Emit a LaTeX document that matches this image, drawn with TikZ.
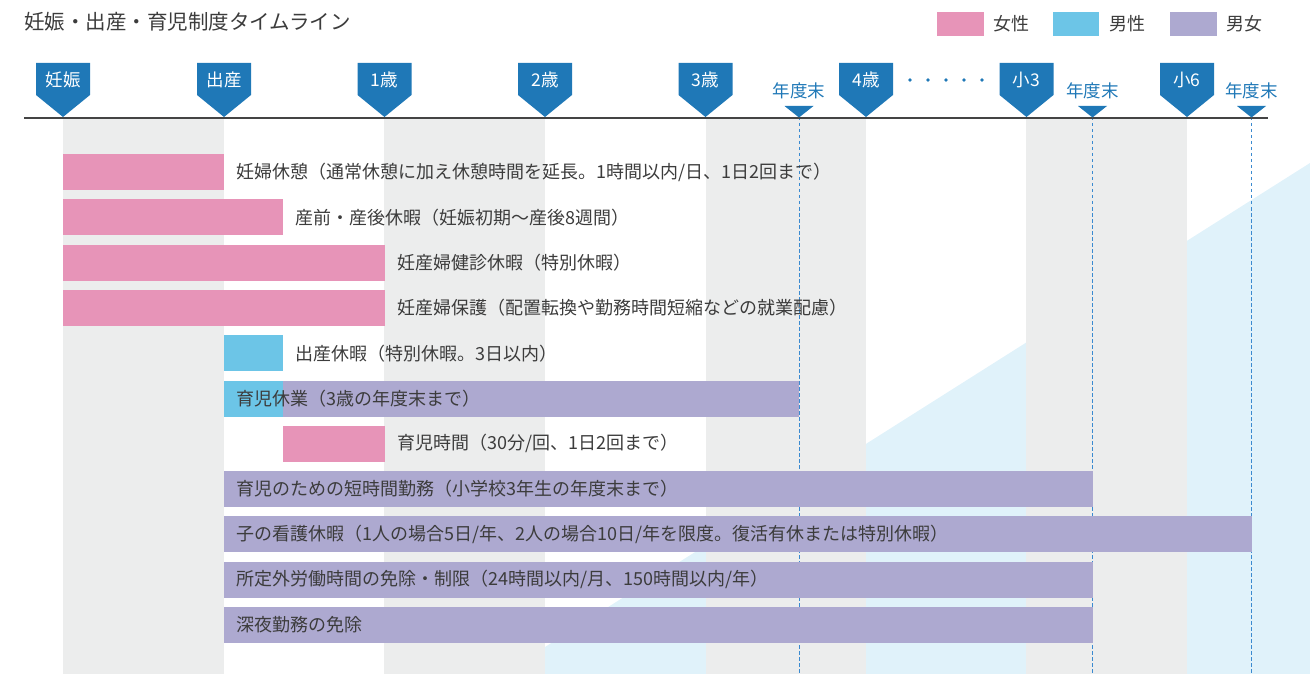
\documentclass[tikz,border=0pt]{standalone}
\usepackage{fontspec}
\setmainfont{Noto Sans CJK JP}
\definecolor{pinkc}{HTML}{E794B8}
\definecolor{cyanc}{HTML}{6CC5E7}
\definecolor{purpc}{HTML}{ADA9D0}
\definecolor{stripec}{HTML}{ECEDED}
\definecolor{lbluec}{HTML}{E0F2FA}
\definecolor{markc}{HTML}{1F78B7}
\definecolor{dashc}{HTML}{3A8AD0}
\definecolor{txtc}{HTML}{3C3C3C}
\definecolor{axisc}{HTML}{444444}
\tikzset{
  lbl/.style={anchor=west, inner sep=0pt, text=txtc, font=\fontsize{18}{20}\selectfont},
  mktext/.style={inner sep=0pt, text=white, font=\fontsize{17.5}{20}\selectfont},
  ndtext/.style={inner sep=0pt, text=markc, font=\fontsize{17.5}{20}\selectfont},
  legtext/.style={anchor=west, inner sep=0pt, text=txtc, font=\fontsize{18}{20}\selectfont},
  nendo/.style={dashc, dashed, dash pattern=on 3.5pt off 2.5pt, line width=1pt},
}
\begin{document}
\begin{tikzpicture}[x=1pt,y=-1pt]
\useasboundingbox (0,0) rectangle (1310,674);
% light blue background triangle
\fill[lbluec] (502.3,674) -- (1310,163) -- (1310,674) -- cycle;
% gray stripes
\foreach \a/\b in {62.5/223.5, 384/545, 706/866, 1026/1187}
  \fill[stripec] (\a,119) rectangle (\b,674);
% fiscal year end dashed lines
\foreach \x in {799, 1092.5, 1251.5}
  \draw[nendo] (\x,117) -- (\x,674);
% axis
\draw[axisc, line width=2pt] (24,118) -- (1268,118);
% markers
\foreach \x/\t/\n in {63/妊娠/mA, 224/出産/mB, 384.5/1歳/mC, 545/2歳/mD, 705.5/3歳/mE, 866/4歳/mF, 1026.5/小3/mG, 1187/小6/mH}{
  \fill[markc] (\x-27,63) -- (\x+27,63) -- (\x+27,95) -- (\x,117) -- (\x-27,95) -- cycle;
  \node[mktext] (\n) at (\x,79.5) {\t};
}
% fiscal year end markers
\foreach \x/\n in {799/nA, 1092.5/nB, 1251.5/nC}{
  \fill[markc] (\x-14.5,106) -- (\x+14.5,106) -- (\x,117.5) -- cycle;
  \node[ndtext] (\n) at (\x,91) {年度末};
}
% dots
\foreach \x in {910,928,946,964,982}
  \fill[markc] (\x,80) circle (1.8);
% bars
\fill[pinkc] (62.5,154) rectangle (224,190);
\node[lbl] (r1) at (236.5,172) {妊婦休憩（通常休憩に加え休憩時間を延長。1時間以内/日、1日2回まで）};
\fill[pinkc] (62.5,199.3) rectangle (283,235.3);
\node[lbl] (r2) at (295.5,217.3) {産前・産後休暇（妊娠初期～産後8週間）};
\fill[pinkc] (62.5,244.6) rectangle (385,280.6);
\node[lbl] (r3) at (397,262.6) {妊産婦健診休暇（特別休暇）};
\fill[pinkc] (62.5,289.9) rectangle (385,325.9);
\node[lbl] (r4) at (397,307.9) {妊産婦保護（配置転換や勤務時間短縮などの就業配慮）};
\fill[cyanc] (224,335.2) rectangle (283,371.2);
\node[lbl] (r5) at (295.5,353.2) {出産休暇（特別休暇。3日以内）};
\fill[cyanc] (224,380.5) rectangle (283,416.5);
\fill[purpc] (283,380.5) rectangle (799,416.5);
\node[lbl] (r6) at (236.5,398.5) {育児休業（3歳の年度末まで）};
\fill[pinkc] (283,425.8) rectangle (385,461.8);
\node[lbl] (r7) at (397,443.8) {育児時間（30分/回、1日2回まで）};
\fill[purpc] (224,471.1) rectangle (1092.5,507.1);
\node[lbl] (r8) at (236.5,489.1) {育児のための短時間勤務（小学校3年生の年度末まで）};
\fill[purpc] (224,516.4) rectangle (1251.5,552.4);
\node[lbl] (r9) at (236.5,534.4) {子の看護休暇（1人の場合5日/年、2人の場合10日/年を限度。復活有休または特別休暇）};
\fill[purpc] (224,561.7) rectangle (1092.5,597.7);
\node[lbl] (r10) at (236.5,579.7) {所定外労働時間の免除・制限（24時間以内/月、150時間以内/年）};
\fill[purpc] (224,607) rectangle (1092.5,643);
\node[lbl] (r11) at (236.5,625) {深夜勤務の免除};
% title
\node[anchor=base west, inner sep=0pt, text=txtc, font=\fontsize{20.5}{24}\selectfont] (title) at (24,29.5) {妊娠・出産・育児制度タイムライン};
% legend
\fill[pinkc] (937,12) rectangle (984,36);
\node[legtext] (l1) at (993,24) {女性};
\fill[cyanc] (1053,12) rectangle (1099,36);
\node[legtext] (l2) at (1109,24) {男性};
\fill[purpc] (1170,12) rectangle (1217,36);
\node[legtext] (l3) at (1226,24) {男女};
\end{tikzpicture}
\end{document}
